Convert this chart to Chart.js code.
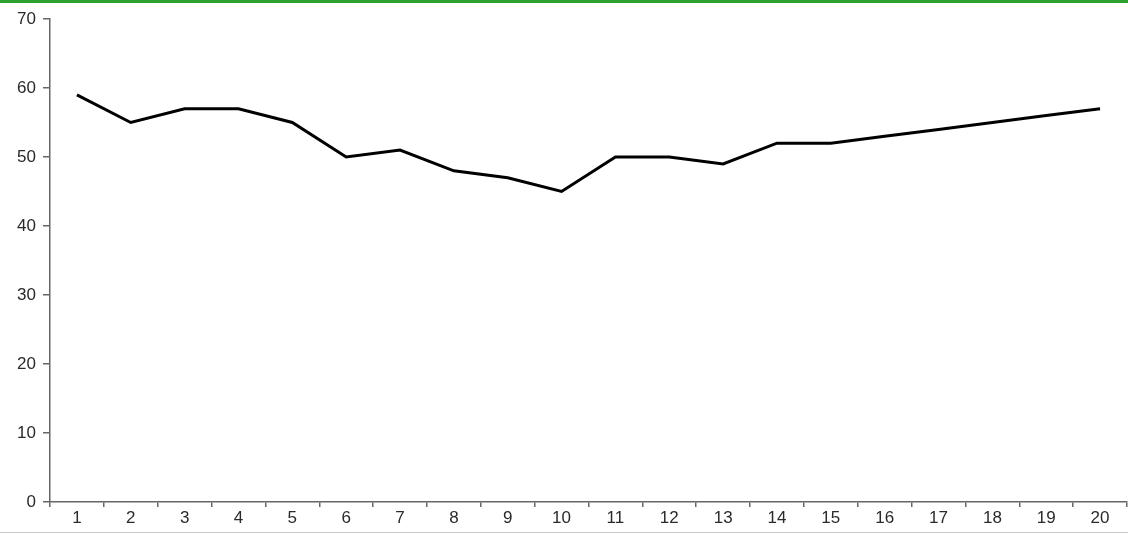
<!DOCTYPE html>
<html>
<head>
<meta charset="utf-8">
<script src="https://cdn.jsdelivr.net/npm/chart.js@4/dist/chart.umd.min.js"></script>
<style>
  html, body { margin: 0; padding: 0; background: #fff; }
  #wrap { position: relative; width: 1128px; height: 535px; }
  #topbar { position: absolute; left: 0; top: 0; width: 1128px; height: 3px; background: #2ea02e; }
  #bottomline { position: absolute; left: 0; top: 532px; width: 1128px; height: 1px; background: #c8c8c8; }
</style>
</head>
<body>
<div id="wrap">
  <canvas id="myChart" width="1128" height="535"></canvas>
  <div id="topbar"></div>
  <div id="bottomline"></div>
</div>
<script>
// данные графика
var labels = ["1", "2", "3", "4", "5", "6", "7", "8", "9", "10",
              "11", "12", "13", "14", "15", "16", "17", "18", "19", "20"];
var values = [59, 55, 57, 57, 55, 50, 51, 48, 47, 45,
              50, 50, 49, 52, 52, 53, 54, 55, 56, 57];
var yMin = 0;
var yMax = 70;
var yStep = 10;

const ctx = document.getElementById('myChart');

var axisColor = "#666";
var textColor = "#2a2a2a";
var tickFont = { family: "Liberation Sans, Arial, sans-serif", size: 17 };

new Chart(ctx, {
    type: "line",
    data: {
        labels: labels,
        datasets: [{
            data: values,
            borderColor: "#000",
            borderWidth: 3,
            tension: 0,
            pointRadius: 0,
            fill: false
        }]
    },
    options: {
        responsive: false,
        animation: false,
        layout: {
            padding: { top: 19, right: 1, bottom: 0, left: 0 }
        },
        plugins: {
            legend: { display: false },
            tooltip: { enabled: false }
        },
        scales: {
            x: {
                offset: true,
                grid: {
                    offset: true,
                    drawOnChartArea: false,
                    drawTicks: true,
                    tickLength: 5,
                    lineWidth: 1.5,
                    color: axisColor
                },
                border: { color: axisColor, width: 1.5 },
                ticks: {
                    color: textColor,
                    padding: 1,
                    maxRotation: 0,
                    font: tickFont
                },
                afterFit: function (scale) { scale.height = 33; }
            },
            y: {
                min: yMin,
                max: yMax,
                grid: {
                    drawOnChartArea: false,
                    drawTicks: true,
                    tickLength: 7,
                    lineWidth: 1.5,
                    color: axisColor
                },
                border: { color: axisColor, width: 1.5 },
                ticks: {
                    stepSize: yStep,
                    color: textColor,
                    padding: 7,
                    font: tickFont
                },
                afterFit: function (scale) { scale.width = 50; }
            }
        }
    }
});
</script>
</body>
</html>
